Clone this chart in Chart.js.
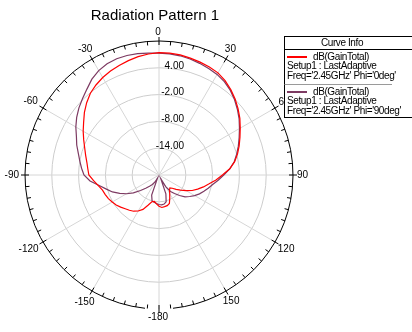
<!DOCTYPE html>
<html>
<head>
<meta charset="utf-8">
<script src="https://cdn.jsdelivr.net/npm/chart.js@4.4.1/dist/chart.umd.min.js"></script>
<style>
  html, body { margin: 0; padding: 0; background: #fff; }
  canvas { display: block; }
</style>
</head>
<body>
<canvas id="polar" width="412" height="332"></canvas>
<script>
// theta sweep, clockwise from the top
const thetaDeg = [0, 5, 10, 15, 20, 25, 30, 35, 40, 45, 50, 55, 60, 65, 70, 75, 80, 85, 90,
  95, 100, 105, 110, 115, 120, 125, 130, 135, 140, 145, 150, 155, 160, 165, 170, 175, 180,
  -175, -170, -165, -160, -155, -150, -145, -140, -135, -130, -125, -120, -115, -110, -105,
  -100, -95, -90, -85, -80, -75, -70, -65, -60, -55, -50, -45, -40, -35, -30, -25, -20, -15, -10, -5];

// dB(GainTotal), Phi = 0deg
const gainPhi0 = [7.4, 7.4, 7.3, 7.1, 6.9, 6.7, 6.4, 5.8, 5.0, 4.1, 3.1, 2.1, 1.0, 0.0, -0.9, -1.8, -2.8, -4.1, -5.8,
  -7.2, -8.6, -9.7, -10.8, -11.8, -13.0, -14.1, -15.0, -15.8, -16.2, -15.9, -15.2, -14.3, -13.2, -12.9, -12.8, -12.7, -13.0,
  -13.5, -14.0, -13.8, -12.8, -11.5, -10.7, -10.1, -9.7, -9.3, -8.8, -8.3, -7.9, -7.5, -7.2, -6.9,
  -6.2, -5.3, -4.3, -4.0, -3.6, -3.0, -2.3, -1.4, -0.4, 0.6, 1.8, 2.9, 3.9, 4.6, 5.2, 5.7, 6.1, 6.5, 6.9, 7.2];

// dB(GainTotal), Phi = 90deg
const gainPhi90 = [7.3, 7.2, 7.1, 6.9, 6.6, 6.3, 6.0, 5.5, 4.8, 3.9, 2.9, 1.9, 0.8, -0.2, -1.1, -2.0, -2.9, -4.1, -5.5,
  -6.7, -7.8, -8.6, -9.3, -10.0, -10.8, -11.6, -12.4, -13.5, -14.6, -15.5, -17.0, -19.0, -15.5, -13.8, -13.4, -13.3, -13.4,
  -13.6, -13.8, -14.0, -15.2, -19.2, -18.2, -17.4, -16.7, -15.8, -14.6, -13.0, -11.6, -10.3, -8.9, -7.8,
  -6.4, -4.5, -3.2, -2.6, -2.0, -1.3, -0.4, 0.4, 1.5, 2.5, 3.4, 4.2, 5.1, 6.2, 7.0, 7.5, 7.7, 7.7, 7.6, 7.4];

// rim labels and ring labels
const angleTicks = [0, 30, 60, 90, 120, 150, 180, -150, -120, -90, -60, -30];
const angleTickText = ['0', '30', '60', '90', '120', '150', '-180', '-150', '-120', '-90', '-60', '-30'];
const ringTicks = [4, -2, -8, -14];

const curves = [
  { name: 'dB(GainTotal)', setup: 'Setup1 : LastAdaptive', sweep: "Freq='2.45GHz' Phi='0deg'", color: '#ff0000' },
  { name: 'dB(GainTotal)', setup: 'Setup1 : LastAdaptive', sweep: "Freq='2.45GHz' Phi='90deg'", color: '#7d3a62' }
];

const FONT = '"Liberation Sans", Arial, sans-serif';
const rad = d => d * Math.PI / 180;

const decor = {
  id: 'decor',
  beforeDatasetsDraw(chart) {
    const r = chart.scales.r, ctx = chart.ctx;
    const cx = r.xCenter, cy = r.yCenter, R = r.drawingArea;
    ctx.save();
    ctx.strokeStyle = '#000';
    ctx.lineWidth = 1;
    // outer rim, left open around -180
    ctx.beginPath();
    ctx.arc(cx, cy, R, rad(96), rad(444));
    ctx.stroke();
    // degree ticks every 5
    ctx.beginPath();
    for (let a = 0; a < 360; a += 5) {
      const s = Math.sin(rad(a)), c = -Math.cos(rad(a));
      const outer = a % 30 === 0 ? R + 4 : R;
      ctx.moveTo(cx + s * outer, cy + c * outer);
      ctx.lineTo(cx + s * (R - 4), cy + c * (R - 4));
    }
    ctx.stroke();

    // ring values
    ctx.fillStyle = '#000';
    ctx.font = '10px ' + FONT;
    ctx.textAlign = 'right';
    ctx.textBaseline = 'middle';
    ringTicks.forEach(v => {
      const d = r.getDistanceFromCenterForValue(v);
      ctx.fillText(v.toFixed(2), cx + 25, cy - d - 2);
    });

    // angle labels round the rim
    ctx.textAlign = 'center';
    angleTicks.forEach((a, i) => {
      const t = angleTickText[i];
      const w = ctx.measureText(t).width;
      const s = Math.sin(rad(a)), c = Math.cos(rad(a));
      const d = R + 5 + Math.abs(s) * w / 2 + Math.abs(c) * 3.5;
      ctx.fillText(t, cx + s * d - 1, cy - c * d);
    });
    ctx.restore();
  },
  afterDraw(chart) {
    const ctx = chart.ctx;
    ctx.save();
    ctx.fillStyle = '#000';
    ctx.textBaseline = 'middle';

    // title
    ctx.font = '15px ' + FONT;
    ctx.textAlign = 'center';
    ctx.fillText('Radiation Pattern 1', 155, 16);

    // curve info box
    const bx = 284.5, by = 36.5;
    ctx.fillStyle = '#fff';
    ctx.fillRect(bx, by, 140, 81);
    ctx.strokeStyle = '#000';
    ctx.lineWidth = 1;
    ctx.strokeRect(bx, by, 140, 81);
    ctx.beginPath();
    ctx.moveTo(bx, 49.5); ctx.lineTo(412, 49.5);
    ctx.stroke();
    ctx.strokeStyle = '#9a9a9a';
    ctx.beginPath();
    ctx.moveTo(bx, 84.5); ctx.lineTo(392, 84.5);
    ctx.stroke();

    ctx.fillStyle = '#000';
    ctx.font = '10px ' + FONT;
    if ('letterSpacing' in ctx) ctx.letterSpacing = '-0.4px';
    ctx.fillText('Curve Info', 342, 43.5);
    ctx.textAlign = 'left';
    curves.forEach((cv, i) => {
      const y0 = 57 + i * 35;
      ctx.strokeStyle = cv.color;
      ctx.lineWidth = 2;
      ctx.beginPath();
      ctx.moveTo(287, y0); ctx.lineTo(307, y0);
      ctx.stroke();
      ctx.fillText(cv.name, 313, y0);
      ctx.fillText(cv.setup, 287, y0 + 9.5);
      ctx.fillText(cv.sweep, 287, y0 + 19.5);
    });
    ctx.restore();
  }
};

new Chart(document.getElementById('polar'), {
  type: 'radar',
  data: {
    labels: thetaDeg,
    datasets: [
      {
        label: curves[0].sweep,
        data: gainPhi0,
        borderColor: curves[0].color,
        borderWidth: 1.2,
        fill: false,
        pointRadius: 0
      },
      {
        label: curves[1].sweep,
        data: gainPhi90,
        borderColor: curves[1].color,
        borderWidth: 1.2,
        fill: false,
        pointRadius: 0
      }
    ]
  },
  options: {
    responsive: false,
    animation: false,
    layout: { padding: { left: 25, top: 41, right: 119, bottom: 23 } },
    plugins: {
      legend: { display: false },
      title: { display: false },
      tooltip: { enabled: false }
    },
    elements: { line: { tension: 0 } },
    scales: {
      r: {
        min: -20,
        max: 10,
        startAngle: 0,
        ticks: { display: false, stepSize: 6 },
        pointLabels: { display: false },
        grid: {
          circular: true,
          color: c => (c.tick && c.tick.value === 10 ? 'rgba(0,0,0,0)' : '#cdcdcd'),
          lineWidth: 1
        },
        angleLines: {
          color: '#d6d6d6',
          lineWidth: c => (c.index % 6 === 0 ? 1 : 0)
        }
      }
    }
  },
  plugins: [decor]
});
</script>
</body>
</html>
